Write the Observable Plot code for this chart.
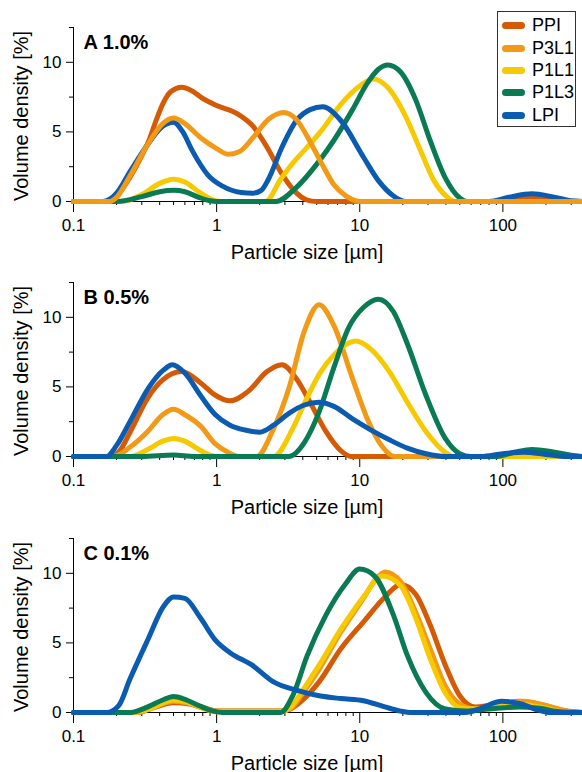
<!DOCTYPE html>
<html><head><meta charset="utf-8">
<script src="https://cdn.jsdelivr.net/npm/d3@7"></script>
<script src="https://cdn.jsdelivr.net/npm/@observablehq/plot@0.6"></script>
<style>
body{margin:0;background:#fff;font-family:"Liberation Sans",Arial,sans-serif;}
#wrap{position:relative;width:582px;height:772px;overflow:hidden;background:#fff;}
.panel{position:absolute;left:0;}
.xt{position:absolute;font-size:20px;transform:translate(-50%,-50%);white-space:nowrap;color:#000;}
.yt{position:absolute;font-size:20px;transform:translate(-50%,-50%) rotate(-90deg);white-space:nowrap;color:#000;}
#legend{position:absolute;left:497px;top:11px;width:79px;height:116px;border:1px solid #333;background:#fff;box-sizing:border-box;}
.li{position:absolute;left:4px;height:22px;display:flex;align-items:center;font-size:18px;color:#000;transform:translateY(-50%);}
.sw{width:23px;height:7px;border-radius:4px;margin-right:7px;}
</style>
</head><body><div id="wrap"></div>
<script>
const seriesNames = ["PPI", "P3L1", "P1L1", "P1L3", "LPI"];
const seriesColors = ["#d55a05", "#f29a16", "#f6c900", "#0a7a52", "#0b5bb0"];
const panelLabels = ["A 1.0%", "B 0.5%", "C 0.1%"];
const majorX = [0.1, 1, 10, 100];
const minorX = [0.2,0.3,0.4,0.5,0.6,0.7,0.8,0.9,2,3,4,5,6,7,8,9,20,30,40,50,60,70,80,90,200,300];
const majorY = [0, 5, 10];
const minorY = [2.5, 7.5, 12.5];

// Panel A (1.0%)
const A_PPI = [[0.1,0],[0.17,0],[0.2,0.4],[0.25,1.8],[0.3,3.3],[0.34,4.5],[0.38,5.9],[0.42,7.0],[0.48,7.9],[0.57,8.2],[0.66,8.0],[0.8,7.4],[1,6.9],[1.4,6.3],[1.8,5.4],[2.25,3.9],[2.85,2.0],[3.4,0.9],[4.3,0.1],[5,0],[80,0],[150,0.3],[220,0.15],[300,0],[360,0]];
const A_P3L1 = [[0.1,0],[0.18,0],[0.2,0.3],[0.25,1.9],[0.33,4.1],[0.42,5.6],[0.5,6.0],[0.6,5.6],[0.77,4.6],[1,3.8],[1.2,3.4],[1.45,3.6],[1.8,4.6],[2.3,5.9],[2.95,6.4],[3.6,5.9],[4.5,4.3],[5.5,2.6],[6.6,1.2],[8,0.4],[10,0],[360,0]];
const A_P1L1 = [[0.1,0],[0.22,0],[0.3,0.5],[0.4,1.3],[0.5,1.6],[0.6,1.4],[0.75,0.7],[0.95,0.1],[1.1,0],[2.2,0],[2.8,1.6],[3.5,2.9],[4.3,3.9],[5.5,5.2],[7.4,7.0],[10,8.3],[12.5,8.8],[16,8.1],[20.5,6.3],[26,3.9],[33,1.5],[40,0.4],[46,0],[360,0]];
const A_P1L3 = [[0.1,0],[0.2,0],[0.3,0.35],[0.4,0.7],[0.5,0.8],[0.6,0.7],[0.75,0.3],[0.9,0.05],[1,0],[2.6,0],[3.6,1.0],[5.2,2.9],[6.6,4.4],[8.9,6.6],[11.3,8.5],[13.5,9.5],[15.7,9.8],[19.3,9.3],[24.6,7.3],[31,4.4],[39.6,1.7],[50,0.25],[56,0],[360,0]];
const A_LPI = [[0.1,0],[0.16,0],[0.2,0.6],[0.25,2.2],[0.33,4.1],[0.42,5.4],[0.5,5.7],[0.58,5.0],[0.68,3.6],[0.87,1.9],[1.1,1.1],[1.48,0.65],[1.8,0.6],[2.05,0.8],[2.3,1.6],[2.86,3.9],[3.6,5.8],[4.5,6.6],[5.5,6.8],[7.4,5.8],[10.6,3.2],[13.5,1.5],[17.2,0.4],[21,0],[80,0],[110,0.3],[160,0.55],[220,0.35],[300,0.05],[360,0]];

// Panel B (0.5%)
const B_PPI = [[0.1,0],[0.18,0],[0.21,0.4],[0.25,1.8],[0.33,4.2],[0.42,5.5],[0.57,6.1],[0.77,5.3],[0.98,4.4],[1.24,4.0],[1.67,4.7],[2.25,6.1],[2.86,6.6],[3.6,5.6],[4.6,3.7],[5.8,1.8],[7.4,0.4],[8.7,0],[360,0]];
const B_P3L1 = [[0.1,0],[0.19,0],[0.25,0.7],[0.33,1.8],[0.42,3.0],[0.5,3.4],[0.6,3.0],[0.77,2.2],[0.98,0.9],[1.2,0.3],[1.45,0],[1.9,0],[2.5,2.0],[3.2,4.9],[4.1,9.0],[5.2,10.9],[6.6,9.4],[8.9,5.6],[11.3,2.7],[14.4,0.7],[17.5,0],[360,0]];
const B_P1L1 = [[0.1,0],[0.25,0],[0.33,0.5],[0.42,1.1],[0.5,1.3],[0.6,1.1],[0.75,0.5],[0.9,0.1],[1,0],[2.5,0],[3.4,2.0],[4.1,3.8],[5.2,5.9],[6.6,7.3],[9.4,8.3],[12,7.7],[16.1,6.1],[21.5,3.9],[29,1.8],[39.6,0.3],[45,0],[360,0]];
const B_P1L3 = [[0.1,0],[0.3,0],[0.5,0.1],[0.7,0],[3.2,0],[4.1,1.0],[5.2,3.2],[6.6,6.4],[8.4,9.3],[10.6,10.7],[13.5,11.3],[17.2,10.4],[21.5,8.1],[29,4.4],[39.6,1.3],[50,0.2],[60,0],[90,0],[120,0.3],[160,0.5],[220,0.35],[300,0.1],[360,0]];
const B_LPI = [[0.1,0],[0.17,0],[0.2,0.8],[0.248,2.5],[0.333,4.9],[0.424,6.2],[0.49,6.6],[0.6,6.0],[0.77,4.4],[0.98,3.0],[1.24,2.25],[1.58,1.9],[2.0,1.75],[2.5,2.25],[3.2,3.1],[4.1,3.7],[5.2,3.9],[6.6,3.6],[8.9,2.7],[12,1.9],[16.1,1.2],[21.5,0.6],[29,0.2],[40,0],[70,0],[100,0.2],[140,0.3],[200,0.15],[280,0],[360,0]];

// Panel C (0.1%)
const C_PPI = [[0.1,0],[0.28,0],[0.35,0.3],[0.5,0.7],[0.65,0.6],[0.85,0.25],[1,0.1],[2.8,0.1],[3.2,0.2],[4,0.9],[5.2,2.2],[7.4,4.6],[10.6,6.5],[15,8.3],[19.3,9.2],[24.6,8.5],[31,6.3],[39.6,3.4],[50,1.2],[64,0.4],[80,0.5],[130,0.8],[180,0.6],[250,0.2],[360,0]];
const C_P3L1 = [[0.1,0],[0.27,0],[0.35,0.35],[0.5,0.8],[0.65,0.65],[0.85,0.3],[1,0.1],[2.8,0.1],[3.3,0.3],[4,1.4],[5.2,3.1],[7.4,5.8],[10.6,8.2],[13,9.6],[15,10.1],[19.3,9.4],[24.6,7.2],[31,4.6],[39.6,1.9],[50,0.6],[64,0.25],[90,0.5],[140,0.8],[200,0.5],[280,0.1],[360,0]];
const C_P1L1 = [[0.1,0],[0.27,0],[0.35,0.3],[0.5,0.9],[0.65,0.7],[0.85,0.2],[1,0.05],[2.8,0.05],[3.3,0.4],[4,1.6],[5.2,3.4],[7.4,6.0],[10.6,8.3],[14.4,9.8],[19.3,9.1],[24.6,6.8],[31,3.9],[39.6,1.4],[50,0.35],[64,0.25],[90,0.45],[130,0.6],[180,0.4],[250,0.1],[360,0]];
const C_P1L3 = [[0.1,0],[0.25,0],[0.33,0.4],[0.42,0.9],[0.5,1.15],[0.6,0.95],[0.75,0.5],[0.95,0.1],[1.1,0],[2.8,0],[3.4,1.2],[4.3,4.1],[5.8,7.0],[7.9,9.2],[10,10.3],[12.7,9.8],[17.2,7.0],[21.5,4.1],[29,1.45],[39.6,0.25],[55,0.1],[80,0.25],[130,0.4],[180,0.3],[250,0.05],[360,0]];
const C_LPI = [[0.1,0],[0.17,0],[0.207,0.5],[0.248,2.4],[0.333,5.3],[0.424,7.6],[0.5,8.3],[0.6,8.2],[0.77,6.8],[0.98,5.2],[1.24,4.3],[1.77,3.4],[2.5,2.2],[3.6,1.6],[5.2,1.2],[7.4,1.0],[10.6,0.85],[15,0.4],[19.3,0.1],[23,0],[55,0],[70,0.3],[98,0.8],[130,0.65],[180,0.15],[210,0],[360,0]];

const panels = [
  {label: panelLabels[0], top: 0, order: [["PPI",A_PPI],["P1L1",A_P1L1],["P1L3",A_P1L3],["LPI",A_LPI],["P3L1",A_P3L1]]},
  {label: panelLabels[1], top: 255, order: [["PPI",B_PPI],["P3L1",B_P3L1],["P1L1",B_P1L1],["P1L3",B_P1L3],["LPI",B_LPI]]},
  {label: panelLabels[2], top: 511, order: [["PPI",C_PPI],["P3L1",C_P3L1],["P1L1",C_P1L1],["P1L3",C_P1L3],["LPI",C_LPI]]}
];

const wrap = document.getElementById("wrap");
for (const p of panels) {
  const data = p.order.flatMap(([name, pts]) => pts.map(([x, y]) => ({x, y, name})));
  const chart = Plot.plot({
    width: 582, height: 261,
    marginTop: 27, marginBottom: 60, marginLeft: 73, marginRight: 0,
    x: {type: "log", domain: [0.1, 360]},
    y: {domain: [0, 12.5]},
    color: {domain: seriesNames, range: seriesColors},
    style: {fontFamily: "'Liberation Sans', Arial, sans-serif", fontSize: "17px", color: "#000", background: "transparent", overflow: "visible"},
    marks: [
      Plot.ruleY([0], {stroke: "#000"}),
      Plot.ruleX([0.1], {stroke: "#000"}),
      Plot.axisX({ticks: majorX, tickSize: 11, tickPadding: 6, tickFormat: d => String(d), fontSize: 17, label: null}),
      Plot.axisX({ticks: minorX, tickSize: 4, text: null, label: null}),
      Plot.axisY({ticks: majorY, tickSize: 7, tickPadding: 5, tickFormat: d => String(d), fontSize: 17, label: null}),
      Plot.axisY({ticks: minorY, tickSize: 4, text: null, label: null}),
      Plot.line(data, {x: "x", y: "y", z: "name", stroke: "name", strokeWidth: 5, curve: "monotone-x", strokeLinejoin: "round", strokeLinecap: "round"}),
      Plot.text([p.label], {frameAnchor: "top-left", dx: 10, dy: 15, lineAnchor: "middle", textAnchor: "start", fontWeight: "bold", fontSize: 20, fill: "#000"})
    ]
  });
  const div = document.createElement("div");
  div.className = "panel";
  div.style.top = p.top + "px";
  div.appendChild(chart);
  wrap.appendChild(div);

  const xt = document.createElement("div");
  xt.className = "xt";
  xt.textContent = "Particle size [µm]";
  xt.style.left = "307px";
  xt.style.top = (p.top + 252) + "px";
  wrap.appendChild(xt);

  const yt = document.createElement("div");
  yt.className = "yt";
  yt.textContent = "Volume density [%]";
  yt.style.left = "21px";
  yt.style.top = (p.top + 116) + "px";
  wrap.appendChild(yt);
}

const legend = document.createElement("div");
legend.id = "legend";
const rowY = [13, 36, 58, 80, 103];
seriesNames.forEach((n, i) => {
  const li = document.createElement("div");
  li.className = "li";
  li.style.top = rowY[i] + "px";
  const sw = document.createElement("div");
  sw.className = "sw";
  sw.style.background = seriesColors[i];
  li.appendChild(sw);
  li.appendChild(document.createTextNode(n));
  legend.appendChild(li);
});
wrap.appendChild(legend);
</script>
</body></html>
